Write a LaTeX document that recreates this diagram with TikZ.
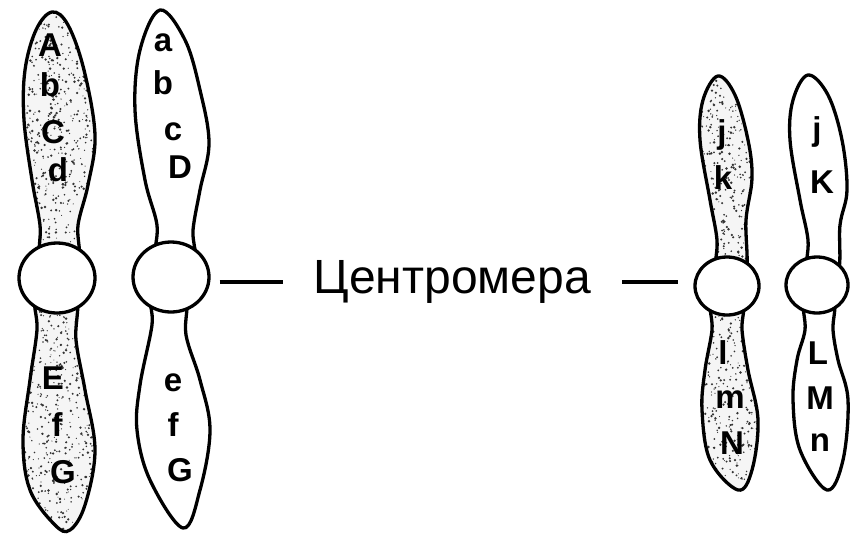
\documentclass[tikz,border=0pt]{standalone}
\usepackage{fontspec}
\setmainfont{Liberation Sans}
\usetikzlibrary{shapes.geometric, positioning}

\begin{document}
\begin{tikzpicture}[x=1pt, y=-1pt, line width=3.3pt]

	\tikzstyle{arm}=[draw, fill=white]
	\tikzstyle{centro}=[ellipse, draw, fill=white, inner sep=0pt]
	\tikzstyle{gene}=[font=\bfseries\fontsize{33}{33}\selectfont, inner sep=0pt]
	\tikzstyle{caption}=[font=\fontsize{48}{48}\selectfont, inner sep=0pt]
	\tikzset{speckled/.style n args={4}{fill=black!4, path picture={
		\pgfmathtruncatemacro\ndots{(#2-#1)/34*(#4-#3)}
		\foreach \k in {1,...,\ndots}
			\fill[black!80] ({#1+rnd*(#2-#1)},{#3+rnd*(#4-#3)}) circle ({0.5+0.9*rnd});
	}}}
	\pgfmathsetseed{11}

	\useasboundingbox (0,0) rectangle (850,536);

	% first pair, arms
	\draw[arm, speckled={18}{100}{8}{270}] plot[smooth cycle, tension=0.6] coordinates
		{(42,262) (40,225) (32,180) (24,120) (25,70) (36,30) (52,12) (68,25) (84,70) (95,135) (88,185) (78,225) (77,262)};
	\draw[arm, speckled={18}{100}{285}{535}] plot[smooth cycle, tension=0.6] coordinates
		{(37,295) (37,330) (30,380) (23,440) (30,490) (55,525) (70,530) (85,505) (95,450) (85,390) (76,340) (75,295)};
	\draw[arm] plot[smooth cycle, tension=0.6] coordinates
		{(157,262) (157,225) (145,180) (135,110) (140,50) (160,10) (185,40) (200,90) (209,143) (200,190) (193,230) (193,262)};
	\draw[arm] plot[smooth cycle, tension=0.6] coordinates
		{(152,295) (152,325) (140,385) (137,430) (150,480) (183,528) (200,490) (210,430) (200,380) (186,335) (185,295)};

	% second pair, arms
	\draw[arm, speckled={695}{758}{70}{280}] plot[smooth cycle, tension=0.6] coordinates
		{(717,275) (717,240) (710,200) (700,140) (703,100) (718,76) (735,95) (748,140) (752,178) (746,220) (745,275)};
	\draw[arm, speckled={695}{762}{295}{495}] plot[smooth cycle, tension=0.6] coordinates
		{(712,300) (712,330) (705,370) (702,410) (710,460) (738,490) (752,470) (758,420) (748,370) (742,330) (742,300)};
	\draw[arm] plot[smooth cycle, tension=0.6] coordinates
		{(808,275) (808,240) (800,200) (790,140) (793,100) (808,75) (828,95) (842,140) (847,190) (840,225) (837,275)};
	\draw[arm] plot[smooth cycle, tension=0.6] coordinates
		{(805,300) (805,330) (797,360) (793,400) (800,450) (827,490) (843,460) (848,400) (838,360) (833,330) (833,300)};

	% centromeres
	\node[centro, minimum width=76, minimum height=70] (c1) at (57,278) {};
	\node[centro, minimum width=76, minimum height=70] (c2) at (171,277) {};
	\node[centro, minimum width=64, minimum height=58] (c3) at (727,286) {};
	\node[centro, minimum width=62, minimum height=56] (c4) at (817,285) {};

	% genes
	\foreach \t/\x/\y [count=\i] in {A/50/45, b/50/85, C/53/132, d/58/170, E/53/378, f/57/425, G/63/472,
		a/163/43, b/163/83, c/173/132, D/180/167, e/173/383, f/173/425, G/180/470,
		j/722/135, k/723/178, l/723/353, m/730/400, N/732/443,
		j/817/132, K/822/182, L/818/353, M/820/398, n/820/443}
		\node[gene] (g\i) at (\x,\y) {\t};

	\node[caption, anchor=west] (cm) at (312,282) {Центромера};
	\draw ([xshift=9]c2.east |- cm.west) -- ([xshift=-29]cm.west);
	\draw ([xshift=30]cm.east) -- ([xshift=-15]c3.west |- cm.east);

\end{tikzpicture}
\end{document}
